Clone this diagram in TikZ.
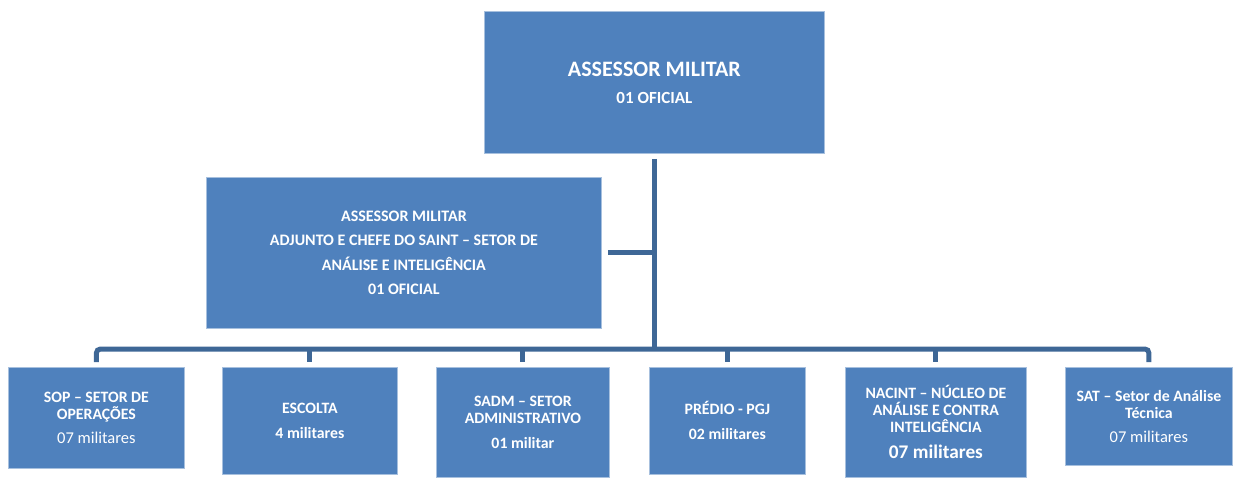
\documentclass[tikz,border=0pt]{standalone}
\usepackage{fontspec}
\setmainfont{Carlito}
\definecolor{boxblue}{HTML}{4F81BD}
\definecolor{lineblue}{HTML}{3E6796}
\definecolor{edgeblue}{HTML}{A7C0DE}
\begin{document}
\begin{tikzpicture}[x=1pt,y=-1pt,
  box/.style={fill=boxblue,draw=edgeblue,line width=0.8pt,inner sep=0pt,
    text=white,align=center,anchor=north west},
  conn/.style={draw=lineblue,line width=5pt},
  bigf/.style={font=\fontsize{22}{30}\selectfont\bfseries},
  midf/.style={font=\fontsize{16}{24.5}\selectfont\bfseries},
  smallf/.style={font=\fontsize{15.8}{17}\selectfont\bfseries}]
\useasboundingbox (0,0) rectangle (1235,477);
% boxes
\node[box,bigf,minimum width=340pt,minimum height=142pt] (top) at (484,11)
  {ASSESSOR MILITAR\\[-3pt]{\fontsize{17}{17}\selectfont 01 OFICIAL}};
\node[box,midf,minimum width=395pt,minimum height=151pt] (mid) at (206,177)
  {ASSESSOR MILITAR\\ADJUNTO E CHEFE DO SAINT -- SETOR DE\\AN\'ALISE E INTELIG\^ENCIA\\01 OFICIAL};
\node[box,smallf,minimum width=176pt,minimum height=101pt] (sop) at (8,367)
  {SOP -- SETOR DE\\OPERA\c{C}\~OES\\[7pt]{\mdseries\fontsize{16.5}{17}\selectfont 07 militares}};
\node[box,smallf,minimum width=175pt,minimum height=107pt] (esc) at (222,367)
  {ESCOLTA\\[8pt]4 militares};
\node[box,smallf,minimum width=173pt,minimum height=110pt] (sadm) at (436,367)
  {SADM -- SETOR\\ADMINISTRATIVO\\[8pt]01 militar};
\node[box,smallf,minimum width=156pt,minimum height=107pt] (pred) at (649,367)
  {PR\'EDIO - PGJ\\[8pt]02 militares};
\node[box,smallf,minimum width=181pt,minimum height=110pt] (nac) at (845,367)
  {NACINT -- N\'UCLEO DE\\AN\'ALISE E CONTRA\\INTELIG\^ENCIA\\[9pt]{\fontsize{19.3}{17}\selectfont 07 militares}};
\node[box,smallf,minimum width=167pt,minimum height=98pt] (sat) at (1065,367)
  {SAT -- Setor de An\'alise\\T\'ecnica\\[7pt]{\mdseries\fontsize{16.5}{17}\selectfont 07 militares}};
% connectors
\coordinate (bus) at (0,349);
\draw[conn] ([yshift=-5pt]top.south) -- (top.south |- bus);
\draw[conn] ([xshift=6pt]mid.east) -- (mid.east -| top.south);
\draw[conn,rounded corners=4pt] ([yshift=5pt]sop.north) -- (sop.north |- bus)
  -- (sat.north |- bus) -- ([yshift=5pt]sat.north);
\foreach \b in {esc,sadm,pred,nac}
  \draw[conn] (\b.north |- bus) -- ([yshift=5pt]\b.north);
\end{tikzpicture}
\end{document}
